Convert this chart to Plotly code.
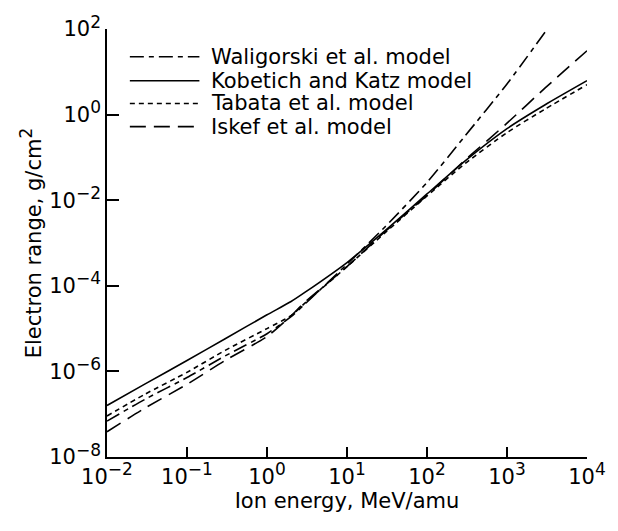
import plotly.graph_objects as go

# Ion energy grid (MeV/amu) and electron ranges (g/cm^2) for each model
energy = [0.01, 0.03, 0.1, 0.3, 1, 2, 3, 10, 30, 100, 300, 1000, 3000, 10000]

kobetich_katz = [1.6e-7, 5.1e-7, 1.8e-6, 5.8e-6, 2.1e-5, 4.3e-5, 7.1e-5,
                 3.5e-4, 1.95e-3, 1.4e-2, 8.3e-2, 0.47, 1.7, 6.2]
tabata = [9.1e-8, 2.95e-7, 9.5e-7, 3.1e-6, 1.0e-5, 2.0e-5, 4.0e-5,
          2.8e-4, 1.74e-3, 1.26e-2, 7.2e-2, 0.38, 1.35, 5.0]
waligorski = [6.9e-8, 2.24e-7, 7.2e-7, 2.3e-6, 7.6e-6, 1.9e-5, 3.8e-5,
              3.2e-4, 2.4e-3, 2.6e-2, 0.32, 5.2, 85]
iskef = [3.9e-8, 1.4e-7, 5.0e-7, 1.8e-6, 6.5e-6, 2.0e-5, 4.2e-5,
         2.8e-4, 1.86e-3, 1.3e-2, 8.7e-2, 0.63, 4.2, 31]

model_names = ["Waligorski et al. model", "Kobetich and Katz model",
               "Tabata et al. model", "Iskef et al. model"]
model_values = [waligorski, kobetich_katz, tabata, iskef]
model_dashes = ["14px,5px,5px,5px", "solid", "5px,4px", "16px,8px"]

# Axis ticks: every decade on x, every second decade on y
x_exponents = [-2, -1, 0, 1, 2, 3, 4]
y_exponents = [-8, -6, -4, -2, 0, 2]

FONT = "DejaVu Sans, Verdana, sans-serif"
FS = 21
SUP_FS = 17
LW = 1.6


def sup(text):
    return f"<sup><span style='font-size:{SUP_FS}px'>{text}</span></sup>"


def power_label(p):
    sign = "\u2212" if p < 0 else ""
    return "10" + sup(f"{sign}{abs(p)}")


fig = go.Figure()
for name, vals, dash in zip(model_names, model_values, model_dashes):
    fig.add_trace(go.Scatter(
        x=energy[:len(vals)], y=vals, mode="lines", name=name,
        line=dict(color="black", width=LW, dash=dash,
                  shape="spline", smoothing=0.6),
        showlegend=False,
    ))

# Legend: line samples with labels in the upper-left corner
legend_rows = [0.935, 0.879, 0.826, 0.772]
for name, dash, yrow in zip(model_names, model_dashes, legend_rows):
    fig.add_shape(type="line", xref="paper", yref="paper",
                  x0=0.0476, x1=0.1925, y0=yrow, y1=yrow,
                  line=dict(color="black", width=LW, dash=dash))
    fig.add_annotation(xref="paper", yref="paper", x=0.2133, y=yrow,
                       text=name, showarrow=False, xanchor="left",
                       yanchor="middle",
                       font=dict(family=FONT, size=FS, color="black"))

axis_common = dict(
    type="log", showgrid=False, zeroline=False, showline=True,
    linecolor="black", linewidth=1.5, ticks="inside", tickcolor="black",
    tickwidth=1.5, mirror=False,
    tickfont=dict(family=FONT, size=FS, color="black"),
)

fig.update_layout(
    width=618, height=531,
    margin=dict(l=107, r=28, t=27, b=74),
    paper_bgcolor="white", plot_bgcolor="white",
    font=dict(family=FONT, color="black"),
    xaxis=dict(axis_common, range=[-2, 4], ticklen=10,
               tickvals=[10.0 ** p for p in x_exponents],
               ticktext=[power_label(p) for p in x_exponents],
               title=dict(text="Ion energy, MeV/amu",
                          font=dict(family=FONT, size=FS), standoff=4)),
    yaxis=dict(axis_common, range=[-8, 2], ticklen=12,
               tickvals=[10.0 ** p for p in y_exponents],
               ticktext=[power_label(p) for p in y_exponents],
               title=dict(text="Electron range, g/cm" + sup("2"),
                          font=dict(family=FONT, size=FS), standoff=2)),
)

fig.write_html("out.html")
